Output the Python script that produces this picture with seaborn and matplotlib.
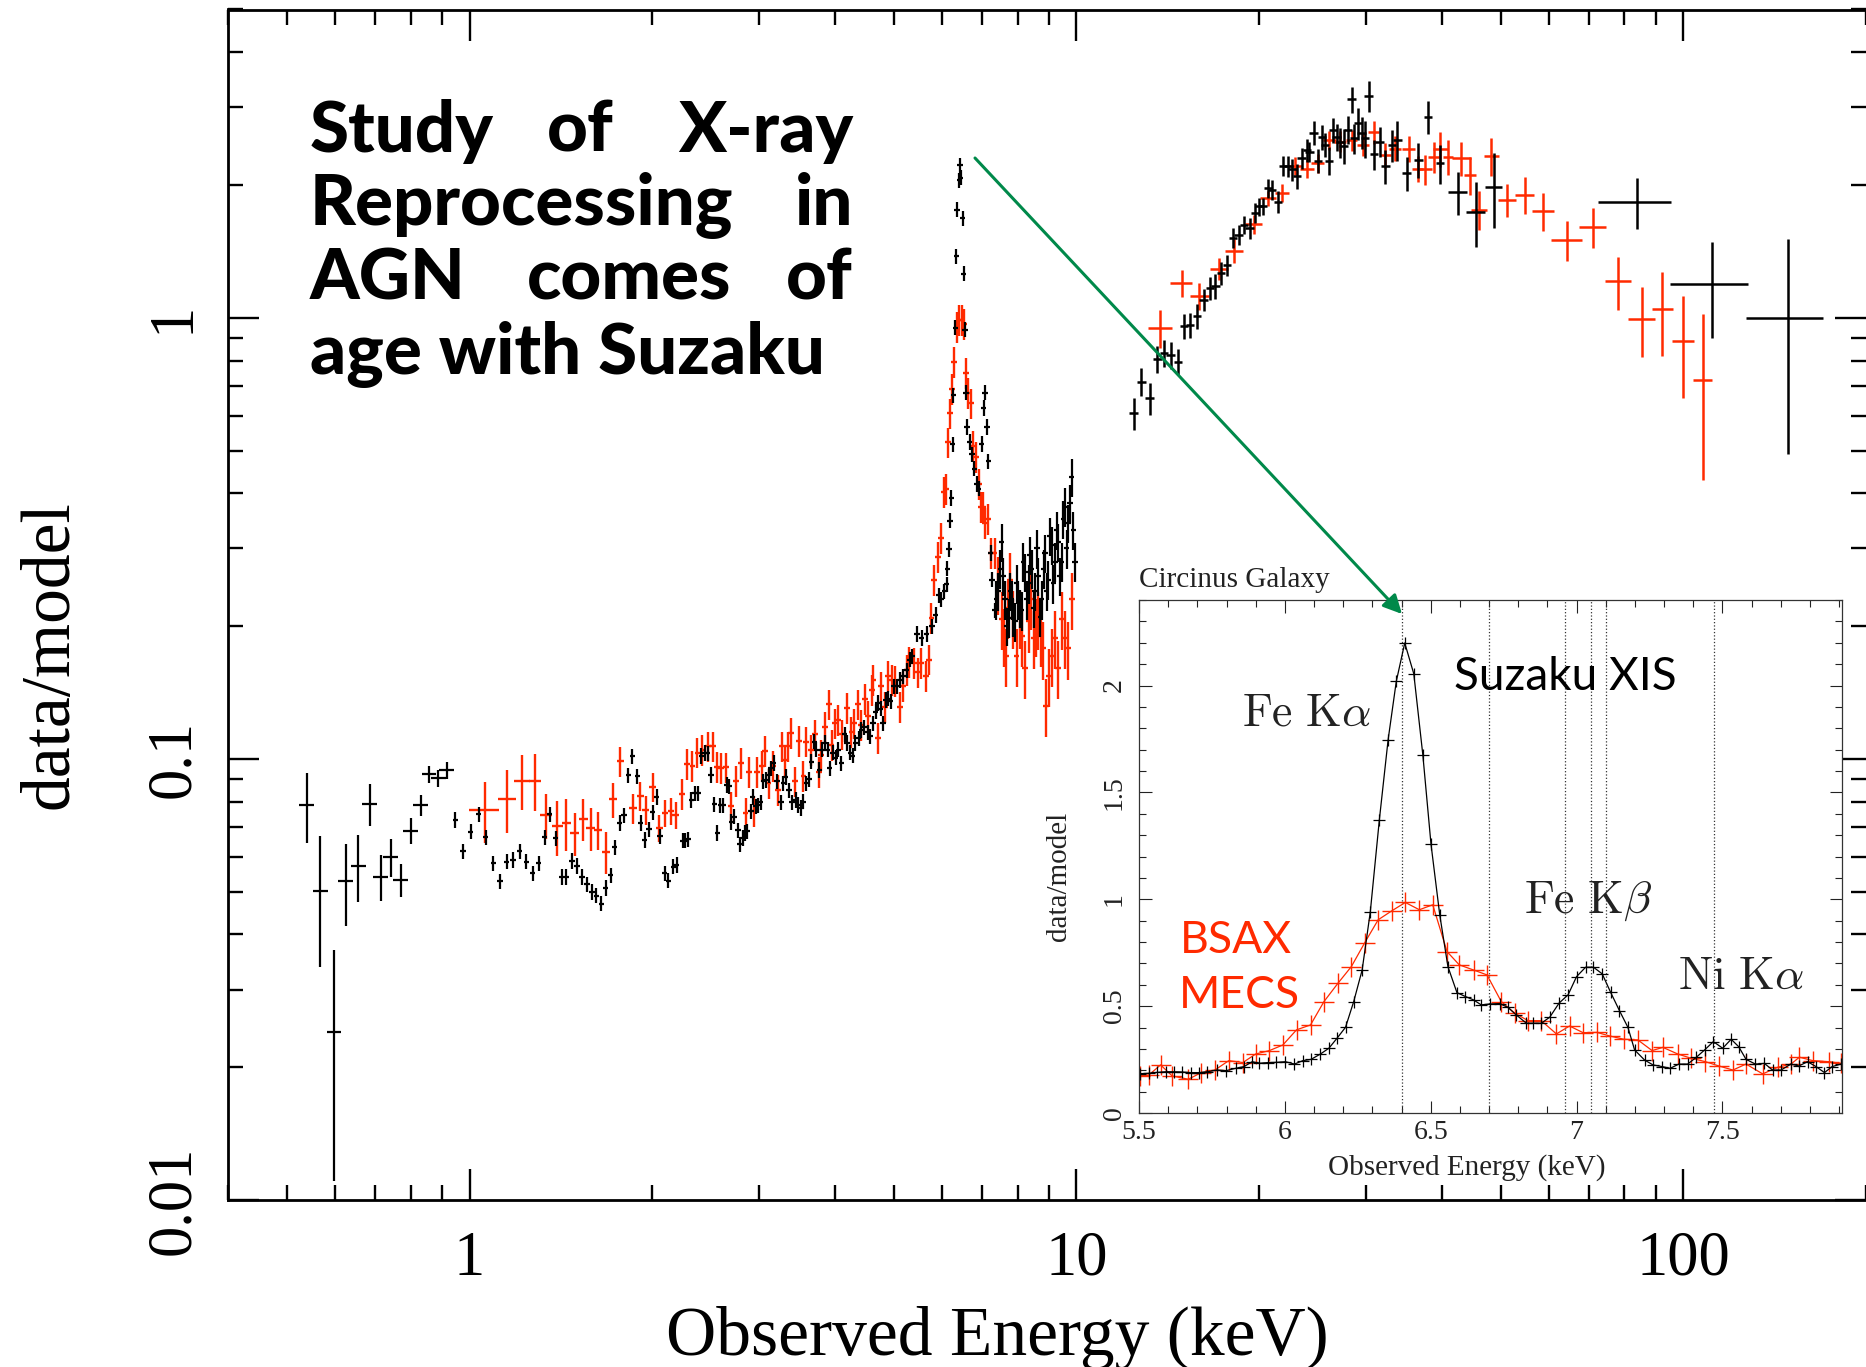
import numpy as np
import matplotlib
matplotlib.use("Agg")
import matplotlib.pyplot as plt
from matplotlib.ticker import LogLocator, NullFormatter, MultipleLocator
from matplotlib.patches import FancyArrowPatch
import seaborn as sns

# --- Suzaku XIS (black), soft sparse bins: energy, ratio, rel. error ---
xis_soft_e = [0.539, 0.568, 0.598, 0.625, 0.656, 0.685, 0.714, 0.742, 0.770, 0.800, 0.831, 0.858, 0.889, 0.917]
xis_soft_v = [0.0787, 0.0503, 0.024, 0.053, 0.0573, 0.079, 0.054, 0.0598, 0.0532, 0.0688, 0.0785, 0.0923, 0.0905, 0.0944]
xis_soft_dv = [0.18, 0.33, 0.54, 0.21, 0.175, 0.11, 0.12, 0.098, 0.085, 0.066, 0.054, 0.045, 0.045, 0.045]

# --- Suzaku XIS, 1-7.3 keV ---
xis_e = [
    0.947, 0.976, 1.005, 1.036, 1.064, 1.094, 1.123, 1.151, 1.180, 1.210,
    1.241, 1.270, 1.300, 1.330, 1.356, 1.387, 1.418, 1.444, 1.476, 1.504,
    1.533, 1.562, 1.592, 1.618, 1.650, 1.677, 1.708, 1.735, 1.768, 1.797,
    1.826, 1.855, 1.889, 1.915, 1.945, 1.975, 2.005, 2.034, 2.060, 2.098,
    2.125, 2.166, 2.195, 2.246, 2.266, 2.295, 2.32, 2.35, 2.38, 2.41,
    2.44, 2.47, 2.50, 2.53, 2.56, 2.59, 2.62, 2.655, 2.68, 2.70,
    2.73, 2.77, 2.79, 2.82, 2.84, 2.87, 2.91, 2.93, 2.96, 2.99,
    3.02, 3.05, 3.08, 3.11, 3.14, 3.17, 3.21, 3.26, 3.29, 3.32,
    3.36, 3.40, 3.45, 3.48, 3.52, 3.55, 3.59, 3.63, 3.66, 3.70,
    3.73, 3.77, 3.81, 3.85, 3.89, 3.92, 3.97, 4.01, 4.05, 4.10,
    4.15, 4.19, 4.24, 4.28, 4.32, 4.38, 4.42, 4.47, 4.53, 4.57,
    4.62, 4.67, 4.71, 4.76, 4.80, 4.85, 4.89, 4.94, 5.00, 5.06,
    5.12, 5.18, 5.25, 5.31, 5.36, 5.46, 5.56, 5.67, 5.78, 5.86,
    5.93, 5.98, 6.06, 6.11, 6.13, 6.17, 6.19, 6.22, 6.25, 6.27,
    6.32, 6.34, 6.36, 6.41, 6.43, 6.45, 6.50, 6.52, 6.55, 6.58,
    6.60, 6.67, 6.73, 6.79, 6.85, 6.90, 6.98, 7.03, 7.07, 7.12,
    7.16, 7.22, 7.26, 7.33]
xis_v = [
    0.0727, 0.0617, 0.0684, 0.075, 0.0664, 0.058, 0.0528, 0.0585, 0.059, 0.0618,
    0.0585, 0.055, 0.058, 0.0664, 0.075, 0.0661, 0.054, 0.054, 0.0587, 0.0572,
    0.054, 0.052, 0.050, 0.049, 0.047, 0.051, 0.0545, 0.063, 0.0716, 0.0745,
    0.0918, 0.1015, 0.0913, 0.0716, 0.0655, 0.0692, 0.0757, 0.082, 0.0667, 0.055,
    0.053, 0.057, 0.0575, 0.0653, 0.0653, 0.0657, 0.0807, 0.0836, 0.0836, 0.1016,
    0.1033, 0.1031, 0.092, 0.079, 0.068, 0.0786, 0.0786, 0.0873, 0.0866, 0.072,
    0.074, 0.0689, 0.064, 0.0662, 0.068, 0.0686, 0.0761, 0.082, 0.0781, 0.0786,
    0.0797, 0.0889, 0.0897, 0.0919, 0.0953, 0.098, 0.0889, 0.0797, 0.088, 0.091,
    0.085, 0.0797, 0.0808, 0.0787, 0.0775, 0.080, 0.088, 0.090, 0.0986, 0.1095,
    0.105, 0.0945, 0.105, 0.1087, 0.105, 0.0953, 0.1034, 0.1007, 0.105, 0.0978,
    0.1136, 0.1087, 0.1034, 0.1017, 0.1087, 0.1115, 0.1163, 0.118, 0.115, 0.1126,
    0.1204, 0.128, 0.134, 0.130, 0.1204, 0.136, 0.137, 0.135, 0.146, 0.146,
    0.151, 0.154, 0.159, 0.168, 0.171, 0.192, 0.188, 0.192, 0.200, 0.212,
    0.235, 0.230, 0.240, 0.249, 0.270, 0.299, 0.347, 0.391, 0.517, 0.667,
    0.95, 1.38, 1.76, 2.05, 2.22, 2.08, 1.68, 1.26, 0.94, 0.677,
    0.566, 0.523, 0.49, 0.455, 0.42, 0.41, 0.518, 0.625, 0.677, 0.566,
    0.473, 0.293, 0.255, 0.217]
XIS_DV = 0.04
XIS_DX = 0.01

# --- Suzaku XIS, 7.3-10 keV ---
xis_tail_e = [
    7.38, 7.44, 7.49, 7.53, 7.58, 7.63, 7.68, 7.73, 7.78, 7.82,
    7.87, 7.93, 7.97, 8.02, 8.08, 8.13, 8.18, 8.23, 8.29, 8.34,
    8.39, 8.44, 8.50, 8.55, 8.61, 8.66, 8.72, 8.77, 8.83, 8.88,
    8.94, 8.99, 9.05, 9.11, 9.16, 9.22, 9.28, 9.34, 9.40, 9.46,
    9.52, 9.58, 9.64, 9.70, 9.76, 9.82, 9.88, 9.95]
xis_tail_v = [
    0.23, 0.24, 0.27, 0.31, 0.26, 0.23, 0.20, 0.209, 0.24, 0.23,
    0.21, 0.205, 0.25, 0.23, 0.22, 0.217, 0.28, 0.265, 0.23, 0.25,
    0.29, 0.27, 0.22, 0.24, 0.30, 0.26, 0.21, 0.23, 0.27, 0.293,
    0.24, 0.255, 0.32, 0.305, 0.25, 0.28, 0.33, 0.31, 0.26, 0.28,
    0.35, 0.373, 0.30, 0.343, 0.38, 0.436, 0.33, 0.28]
XIS_TAIL_DV = 0.1

# --- Suzaku HXD (black, high energy) ---
hxd_e = [12.42, 12.8, 13.2, 13.6, 13.95, 14.3, 14.7, 15.05, 15.4, 15.8,
         16.2, 16.6, 16.95, 17.3, 17.7, 18.1, 18.5, 18.9, 19.3, 19.7,
         20.0, 20.3, 20.7, 21.0, 21.5, 21.9, 22.35, 22.7, 23.1, 23.5,
         24.0, 24.2, 24.6, 25.0, 25.4, 25.7, 26.1, 26.5, 26.85, 27.2,
         27.55, 28.0, 28.4, 28.7, 29.1, 29.5, 29.9, 30.3, 30.9, 31.6,
         32.3, 33.1, 33.8, 35.0, 36.6, 38.0, 39.7]
hxd_v = [0.608, 0.717, 0.657, 0.806, 0.832, 0.824, 0.796, 0.956, 0.964, 1.007,
         1.099, 1.168, 1.178, 1.263, 1.318, 1.516, 1.54, 1.625, 1.597, 1.727,
         1.788, 1.788, 1.968, 1.95, 1.835, 2.21, 2.21, 2.17, 2.10, 2.30,
         2.40, 2.38, 2.63, 2.27, 2.57, 2.47, 2.27, 2.67, 2.57, 2.50,
         2.45, 2.67, 3.13, 2.55, 2.76, 2.63, 2.55, 3.18, 2.35, 2.51,
         2.21, 2.46, 2.53, 2.13, 2.28, 2.86, 2.24]
hxd_dv = [0.083, 0.074, 0.083, 0.07, 0.07, 0.07, 0.07, 0.065, 0.065, 0.065,
          0.057, 0.061, 0.065, 0.061, 0.055, 0.052, 0.052, 0.048, 0.057, 0.052,
          0.048, 0.044, 0.05, 0.052, 0.057, 0.052, 0.054, 0.057, 0.065, 0.057,
          0.058, 0.052, 0.061, 0.063, 0.065, 0.065, 0.074, 0.065, 0.07, 0.078,
          0.091, 0.074, 0.067, 0.078, 0.083, 0.083, 0.096, 0.081, 0.078, 0.078,
          0.089, 0.083, 0.106, 0.089, 0.091, 0.087, 0.10]
HXD_DX = 0.016
hxd_wide_e = [42.5, 45.5, 48.7, 83.8, 111.5, 148.6]
hxd_wide_v = [1.93, 1.74, 1.98, 1.83, 1.194, 1.0]
hxd_wide_dx = [0.036, 0.035, 0.034, 0.137, 0.148, 0.145]
hxd_wide_dv = [0.112, 0.17, 0.193, 0.131, 0.247, 0.51]

# --- BeppoSAX MECS (red) ---
mecs_soft_e = [1.06, 1.154, 1.222, 1.281, 1.337, 1.396, 1.444, 1.491, 1.539, 1.584, 1.628,
               1.677, 1.724, 1.772, 1.86, 1.913, 1.953, 2.003, 2.055, 2.098, 2.15, 2.186]
mecs_soft_v = [0.0766, 0.0812, 0.0893, 0.0893, 0.0746, 0.0703, 0.0714, 0.0679, 0.0731, 0.0697, 0.069,
               0.0615, 0.081, 0.0987, 0.0772, 0.0824, 0.0766, 0.0865, 0.0697, 0.0755, 0.0763, 0.0746]
mecs_soft_dv = [0.158, 0.163, 0.143, 0.146, 0.117, 0.142, 0.134, 0.113, 0.109, 0.113, 0.10,
                0.108, 0.091, 0.076, 0.08, 0.073, 0.075, 0.075, 0.072, 0.07, 0.07, 0.07]
mecs_soft_dx = [0.057, 0.035, 0.03, 0.022, 0.022, 0.02, 0.018, 0.018, 0.017, 0.016, 0.016,
                0.015, 0.015, 0.014, 0.014, 0.014, 0.013, 0.013, 0.013, 0.012, 0.012, 0.012]
mecs_e = [
    2.237, 2.28, 2.33, 2.375, 2.42, 2.47, 2.52, 2.56, 2.60, 2.65,
    2.70, 2.75, 2.80, 2.85, 2.89, 2.94, 2.98, 3.03, 3.07, 3.11,
    3.16, 3.22, 3.27, 3.31, 3.35, 3.39, 3.44, 3.49, 3.55, 3.59,
    3.65, 3.71, 3.77, 3.80, 3.85, 3.91, 3.95, 4.00, 4.05, 4.11,
    4.19, 4.26, 4.30, 4.37, 4.42, 4.48, 4.54, 4.60, 4.63, 4.71,
    4.77, 4.84, 4.90, 4.96, 5.02, 5.12, 5.18, 5.25, 5.30, 5.40,
    5.49, 5.55, 5.66, 5.71, 5.77, 5.83, 5.91, 5.98, 6.06, 6.09,
    6.15, 6.20, 6.23, 6.29, 6.35, 6.41, 6.47, 6.52, 6.57, 6.63,
    6.70, 6.76, 6.84, 6.91, 6.96, 7.02, 7.08, 7.15, 7.24, 7.33]
mecs_v = [
    0.0832, 0.0975, 0.0964, 0.1034, 0.105, 0.1068, 0.1068, 0.0959, 0.0953, 0.0957,
    0.0781, 0.0891, 0.0978, 0.0755, 0.0935, 0.0761, 0.0935, 0.0964, 0.1042, 0.088,
    0.0964, 0.085, 0.1068, 0.0995, 0.1068, 0.1146, 0.0889, 0.110, 0.0916, 0.1095,
    0.105, 0.1136, 0.0935, 0.1023, 0.118, 0.133, 0.1075, 0.1204, 0.1228, 0.1136,
    0.1305, 0.115, 0.1204, 0.133, 0.1194, 0.137, 0.125, 0.1434, 0.151, 0.1115,
    0.146, 0.1313, 0.154, 0.151, 0.150, 0.1313, 0.146, 0.159, 0.166, 0.165,
    0.157, 0.165, 0.154, 0.168, 0.209, 0.255, 0.287, 0.317, 0.403, 0.41,
    0.522, 0.607, 0.691, 0.795, 0.952, 0.99, 0.99, 0.97, 0.749, 0.677,
    0.64, 0.513, 0.483, 0.42, 0.372, 0.372, 0.343, 0.35, 0.293, 0.293]
MECS_DV = 0.08
MECS_DX = 0.011
mecs_tail_e = [7.44, 7.53, 7.59, 7.65, 7.72, 7.78, 7.87, 7.97, 8.07, 8.15,
               8.22, 8.34, 8.42, 8.50, 8.58, 8.66, 8.74, 8.82, 8.91, 9.01,
               9.11, 9.22, 9.34, 9.46, 9.58, 9.70, 9.82]
mecs_tail_v = [0.249, 0.208, 0.19, 0.171, 0.22, 0.255, 0.209, 0.171, 0.209, 0.19,
               0.161, 0.205, 0.23, 0.188, 0.2, 0.208, 0.19, 0.178, 0.132, 0.154,
               0.171, 0.188, 0.161, 0.208, 0.188, 0.178, 0.23]
MECS_TAIL_DV = 0.15

# --- BeppoSAX PDS (red, high energy) ---
pds_e = [13.75, 14.9, 15.95, 17.2, 18.2, 19.6, 20.7, 21.8, 22.9, 24.0,
         25.0, 26.1, 27.2, 28.4, 29.7, 30.9, 32.3, 33.5, 35.3, 36.5,
         37.6, 38.8, 39.8, 41.0, 43.1, 44.5, 46.1, 48.3, 51.3, 54.8,
         58.8, 64.3, 71.0, 78.1, 85.5, 92.4, 100.0, 107.6]
pds_v = [0.95, 1.198, 1.122, 1.29, 1.42, 1.63, 1.87, 1.92, 2.21, 2.18,
         2.24, 2.53, 2.51, 2.53, 2.47, 2.64, 2.34, 2.42, 2.42, 2.18,
         2.17, 2.32, 2.42, 2.32, 2.30, 2.11, 1.76, 2.33, 1.85, 1.90,
         1.75, 1.50, 1.61, 1.21, 0.993, 1.046, 0.888, 0.724]
pds_dx = [0.044, 0.041, 0.036, 0.034, 0.034, 0.033, 0.032, 0.027, 0.027, 0.025,
          0.025, 0.025, 0.024, 0.021, 0.022, 0.022, 0.021, 0.021, 0.024, 0.022,
          0.024, 0.023, 0.029, 0.019, 0.035, 0.022, 0.029, 0.029, 0.035, 0.035,
          0.041, 0.057, 0.051, 0.048, 0.051, 0.04, 0.043, 0.035]
pds_dv = [0.099, 0.07, 0.07, 0.057, 0.061, 0.048, 0.039, 0.046, 0.048, 0.05,
          0.05, 0.05, 0.055, 0.055, 0.06, 0.06, 0.065, 0.065, 0.07, 0.07,
          0.08, 0.08, 0.09, 0.09, 0.09, 0.1, 0.1, 0.1, 0.087, 0.096,
          0.099, 0.104, 0.104, 0.137, 0.18, 0.215, 0.26, 0.407]

# --- inset: Fe K region, linear ---
suz_e = [5.505, 5.534, 5.562, 5.591, 5.620, 5.648, 5.677, 5.705, 5.734, 5.768,
         5.799, 5.831, 5.860, 5.888, 5.913, 5.943, 5.971, 6.002, 6.033, 6.062,
         6.090, 6.122, 6.151, 6.179, 6.208, 6.236, 6.265, 6.293, 6.324, 6.354,
         6.382, 6.411, 6.442, 6.473, 6.501, 6.531, 6.559, 6.590, 6.619, 6.647,
         6.673, 6.702, 6.736, 6.765, 6.794, 6.828, 6.851, 6.879, 6.908, 6.940,
         6.971, 7.000, 7.031, 7.058, 7.088, 7.117, 7.147, 7.176, 7.199, 7.233,
         7.262, 7.294, 7.321, 7.351, 7.381, 7.410, 7.439, 7.469, 7.501, 7.530,
         7.556, 7.581, 7.613, 7.644, 7.672, 7.701, 7.735, 7.762, 7.792, 7.821,
         7.850, 7.876, 7.907]
suz_v = [0.184, 0.186, 0.190, 0.193, 0.193, 0.192, 0.189, 0.189, 0.193, 0.201,
         0.198, 0.209, 0.217, 0.240, 0.233, 0.236, 0.237, 0.240, 0.229, 0.245,
         0.251, 0.276, 0.303, 0.350, 0.401, 0.521, 0.669, 0.942, 1.372, 1.746,
         2.019, 2.199, 2.055, 1.676, 1.258, 0.927, 0.685, 0.563, 0.545, 0.529,
         0.506, 0.510, 0.512, 0.494, 0.458, 0.420, 0.420, 0.420, 0.448, 0.514,
         0.553, 0.638, 0.682, 0.682, 0.651, 0.564, 0.479, 0.401, 0.295, 0.248,
         0.225, 0.217, 0.209, 0.229, 0.229, 0.260, 0.295, 0.334, 0.303, 0.345,
         0.310, 0.251, 0.229, 0.232, 0.201, 0.201, 0.229, 0.220, 0.240, 0.217,
         0.189, 0.217, 0.229]
bsax_e = [5.505, 5.534, 5.574, 5.614, 5.669, 5.711, 5.760, 5.808, 5.856, 5.900,
          5.947, 5.993, 6.040, 6.088, 6.134, 6.182, 6.228, 6.274, 6.320, 6.368,
          6.413, 6.461, 6.507, 6.556, 6.598, 6.647, 6.693, 6.742, 6.788, 6.834,
          6.879, 6.931, 6.976, 7.022, 7.070, 7.115, 7.162, 7.210, 7.259, 7.296,
          7.347, 7.393, 7.442, 7.488, 7.536, 7.581, 7.638, 7.690, 7.735, 7.764,
          7.810, 7.867, 7.907]
bsax_v = [0.175, 0.178, 0.225, 0.173, 0.158, 0.187, 0.201, 0.245, 0.236, 0.276,
          0.292, 0.318, 0.389, 0.412, 0.521, 0.607, 0.685, 0.797, 0.904, 0.947,
          0.985, 0.951, 0.974, 0.755, 0.693, 0.669, 0.646, 0.521, 0.467, 0.432,
          0.432, 0.370, 0.407, 0.376, 0.377, 0.360, 0.345, 0.342, 0.292, 0.307,
          0.276, 0.256, 0.240, 0.220, 0.201, 0.229, 0.183, 0.214, 0.229, 0.261,
          0.245, 0.240, 0.232]
line_e = [6.40, 6.70, 6.96, 7.05, 7.10, 7.47]

RED = '#ff2a00'
GREEN = '#00894a'
W, H = 1866, 1367

sns.set_theme(style="ticks")
plt.rcParams['font.family'] = ['Liberation Serif', 'DejaVu Serif']
plt.rcParams['mathtext.fontset'] = 'cm'
for k in ['text.color', 'axes.labelcolor', 'xtick.color', 'ytick.color', 'axes.edgecolor']:
    plt.rcParams[k] = 'black'


def fx(px):
    return px / W


def fy(py):
    return 1 - py / H


fig = plt.figure(figsize=(W / 100, H / 100), dpi=100)
fig.patch.set_facecolor('white')
ax = fig.add_axes([fx(228), fy(1200), 1 - fx(228), fy(9.5) - fy(1200)])


def bars(e, v, dx, dv, color, lw):
    e = np.asarray(e, float)
    v = np.asarray(v, float)
    ax.errorbar(e, v, xerr=e * np.asarray(dx), yerr=v * np.asarray(dv),
                fmt='none', ecolor=color, elinewidth=lw, capsize=0)


bars(mecs_soft_e, mecs_soft_v, mecs_soft_dx, mecs_soft_dv, RED, 1.7)
bars(mecs_e, mecs_v, MECS_DX, MECS_DV, RED, 1.7)
bars(mecs_tail_e, mecs_tail_v, MECS_DX, MECS_TAIL_DV, RED, 1.7)
bars(pds_e, pds_v, pds_dx, pds_dv, RED, 1.8)
bars(xis_soft_e, xis_soft_v, 0.028, xis_soft_dv, 'black', 1.6)
bars(xis_e, xis_v, XIS_DX, XIS_DV, 'black', 1.6)
bars(xis_tail_e, xis_tail_v, XIS_DX, XIS_TAIL_DV, 'black', 1.6)
bars(hxd_e, hxd_v, HXD_DX, hxd_dv, 'black', 1.8)
bars(hxd_wide_e, hxd_wide_v, hxd_wide_dx, hxd_wide_dv, 'black', 1.8)

ax.set_xscale('log')
ax.set_yscale('log')
ax.set_xlim(0.4, 200)
ax.set_ylim(0.01, 5)
ax.set_xticks([1, 10, 100], labels=['1', '10', '100'])
ax.set_yticks([0.01, 0.1, 1], labels=['0.01', '0.1', '1'], rotation=90, va='center')
for axis in (ax.xaxis, ax.yaxis):
    axis.set_minor_locator(LogLocator(base=10, subs=np.arange(2, 10)))
    axis.set_minor_formatter(NullFormatter())
ax.tick_params(which='both', direction='in', top=True, right=True, width=1.7,
               labelsize=45)
ax.tick_params(axis='x', pad=22)
ax.tick_params(axis='y', pad=18)
ax.tick_params(which='major', length=22)
ax.tick_params(which='minor', length=11)
for s in ax.spines.values():
    s.set_linewidth(2.0)
ax.spines['right'].set_visible(False)
ax.set_xlabel('Observed Energy (keV)', fontsize=50, ha='center', va='baseline')
ax.xaxis.set_label_coords(0.4695, -0.130)
ax.set_ylabel('data/model', fontsize=50, ha='center', va='baseline')
ax.yaxis.set_label_coords(-0.098, 0.458)

# headline, justified like the original block
title_kw = dict(fontsize=51, fontweight='black', family=['Lato', 'DejaVu Sans'], va='baseline')
fig.text(fx(310), fy(152), 'Study', ha='left', **title_kw)
fig.text(fx(580), fy(152), 'of', ha='center', **title_kw)
fig.text(fx(853), fy(152), 'X-ray', ha='right', **title_kw)
fig.text(fx(310), fy(225), 'Reprocessing', ha='left', **title_kw)
fig.text(fx(853), fy(225), 'in', ha='right', **title_kw)
fig.text(fx(310), fy(299), 'AGN', ha='left', **title_kw)
fig.text(fx(629), fy(299), 'comes', ha='center', **title_kw)
fig.text(fx(853), fy(299), 'of', ha='right', **title_kw)
fig.text(fx(310), fy(374), 'age with Suzaku', ha='left', **title_kw)

# inset
axin = fig.add_axes([fx(1139), fy(1113), fx(1842) - fx(1139), fy(600) - fy(1113)])
axin.set_facecolor('white')
for e in line_e:
    axin.axvline(e, color='#333333', ls=':', lw=0.9)
sns.lineplot(x=bsax_e, y=bsax_v, ax=axin, color=RED, lw=0.9, marker='+',
             markersize=15, markeredgewidth=1.0, markeredgecolor=RED,
             estimator=None, sort=False, legend=False)
sns.lineplot(x=suz_e, y=suz_v, ax=axin, color='black', lw=0.9, marker='+',
             markersize=9, markeredgewidth=0.9, markeredgecolor='black',
             estimator=None, sort=False, legend=False)
axin.set_xlim(5.5, 7.91)
axin.set_ylim(0, 2.4)
axin.set_xticks([5.5, 6, 6.5, 7, 7.5], labels=['5.5', '6', '6.5', '7', '7.5'])
axin.set_yticks([0, 0.5, 1, 1.5, 2], labels=['0', '0.5', '1', '1.5', '2'], rotation=90, va='center')
axin.xaxis.set_minor_locator(MultipleLocator(0.1))
axin.yaxis.set_minor_locator(MultipleLocator(0.1))
axin.tick_params(which='both', direction='in', top=True, right=True, width=0.8,
                 labelsize=20, colors='#222222')
axin.tick_params(axis='x', pad=5)
axin.tick_params(axis='y', pad=9)
axin.tick_params(which='major', length=9)
axin.tick_params(which='minor', length=4.8)
for s in axin.spines.values():
    s.set_linewidth(0.9)
    s.set_color('#333333')
axin.set_xlabel('Observed Energy (keV)', fontsize=21, color='#222222', ha='center', va='baseline')
axin.xaxis.set_label_coords(0.4666, -0.121)
axin.set_ylabel('data/model', fontsize=21, color='#222222', ha='center', va='baseline')
axin.yaxis.set_label_coords(-0.104, 0.462)

fig.text(fx(1139), fy(587), 'Circinus Galaxy', fontsize=21, color='#222222', va='baseline')
fig.text(fx(1242), fy(725), r'$\mathrm{Fe\ K}\alpha$', fontsize=33, color='#222222', va='baseline')
fig.text(fx(1524), fy(913), r'$\mathrm{Fe\ K}\beta$', fontsize=33, color='#222222', va='baseline')
fig.text(fx(1678), fy(989), r'$\mathrm{Ni\ K}\alpha$', fontsize=33, color='#222222', va='baseline')
sans = ['Lato', 'DejaVu Sans']
fig.text(fx(1454), fy(690), 'Suzaku XIS', fontsize=33, family=sans, color='black', va='baseline')
fig.text(fx(1180), fy(953), 'BSAX', fontsize=32, family=sans, color=RED, va='baseline')
fig.text(fx(1179), fy(1008), 'MECS', fontsize=32, family=sans, color=RED, va='baseline')

arrow = FancyArrowPatch((fx(975), fy(158)), (fx(1402), fy(614)), transform=fig.transFigure,
                        arrowstyle='-|>', mutation_scale=28, color=GREEN, lw=2.2,
                        shrinkA=0, shrinkB=0)
fig.add_artist(arrow)

fig.savefig('out.png', dpi=100)
